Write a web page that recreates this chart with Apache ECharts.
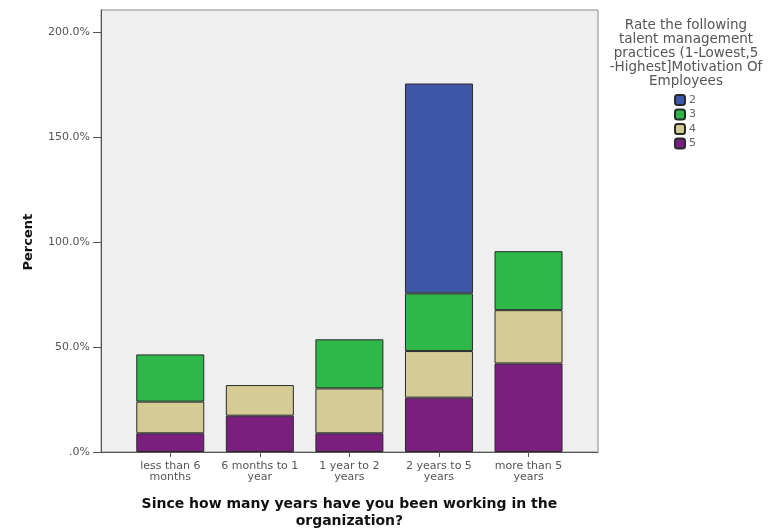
<!DOCTYPE html>
<html>
<head>
<meta charset="utf-8">
<script src="https://cdn.jsdelivr.net/npm/echarts@6/dist/echarts.min.js"></script>
<style>
html,body{margin:0;padding:0;background:#fff;}
#chart{width:770px;height:528px;}
</style>
</head>
<body>
<div id="chart"></div>
<script>
const categories = ['less than 6\nmonths', '6 months to 1\nyear', '1 year to 2\nyears', '2 years to 5\nyears', 'more than 5\nyears'];
const rating5 = [8.9, 17.3, 8.9, 25.9, 42.2];
const rating4 = [15.1, 14.6, 21.4, 22.2, 25.4];
const rating3 = [22.5, null, 23.4, 27.5, 28.1];
const rating2 = [null, null, null, 100.0, null];
const yTickLabels = ['.0%', '50.0%', '100.0%', '150.0%', '200.0%'];
const legendTitle = 'Rate the following\ntalent management\npractices (1-Lowest,5\n-Highest]Motivation Of\nEmployees';
const xTitle = 'Since how many years have you been working in the\norganization?';
const yTitle = 'Percent';

const FONT = 'DejaVu Sans';
const chart = echarts.init(document.getElementById('chart'), null, {renderer: 'canvas'});

const seriesStyle = (name, color, data) => ({
  name: name, type: 'bar', stack: 'total', xAxisIndex: 1, yAxisIndex: 1,
  data: data, barWidth: 68,
  itemStyle: {color: color, borderColor: '#2a2a2a', borderWidth: 1},
  emphasis: {disabled: true}
});

chart.setOption({
  animation: false,
  textStyle: {fontFamily: FONT},
  title: {
    text: legendTitle,
    left: 686, top: 18, padding: 0,
    textAlign: 'center',
    textStyle: {fontFamily: FONT, fontSize: 13.5, fontWeight: 'normal', color: '#555', lineHeight: 14}
  },
  legend: {
    orient: 'vertical', left: 674, top: 94, padding: 0,
    itemWidth: 10, itemHeight: 10, itemGap: 2.5,
    data: ['2', '3', '4', '5'],
    textStyle: {fontFamily: FONT, fontSize: 11, color: '#666', padding: [0, 0, 0, -1]}
  },
  grid: [
    {left: 101, right: 172, top: 10, bottom: 76, show: true, backgroundColor: '#EFEFEF', borderColor: '#8a8a8a', borderWidth: 1, outerBoundsMode: 'none', containLabel: false},
    {left: 125.5, right: 196.7, top: 32.3, bottom: 76, outerBoundsMode: 'none', containLabel: false}
  ],
  xAxis: [
    {gridIndex: 0, type: 'value', axisLine: {show: true, lineStyle: {color: '#555'}}, axisTick: {show: false}, axisLabel: {show: false}, splitLine: {show: false}},
    {gridIndex: 1, type: 'category', data: categories,
      axisLine: {show: false},
      axisTick: {show: true, alignWithLabel: true, length: 5, lineStyle: {color: '#555'}},
      axisLabel: {fontFamily: FONT, fontSize: 11, color: '#555', lineHeight: 11, margin: 9, interval: 0},
      name: xTitle, nameLocation: 'middle', nameGap: 44,
      nameTextStyle: {fontFamily: FONT, fontSize: 14, fontWeight: 'bold', color: '#111', lineHeight: 17}
    }
  ],
  yAxis: [
    {gridIndex: 0, type: 'value', axisLine: {show: true, lineStyle: {color: '#555'}}, axisTick: {show: false}, axisLabel: {show: false}, splitLine: {show: false}},
    {gridIndex: 1, type: 'value', min: 0, max: 200, interval: 50, offset: 24.5,
      axisLine: {show: false},
      axisTick: {show: true, length: 8, lineStyle: {color: '#555'}},
      axisLabel: {fontFamily: FONT, fontSize: 11, color: '#555', margin: 11,
        formatter: v => yTickLabels[Math.round(v / 50)] || ''},
      splitLine: {show: false},
      name: yTitle, nameLocation: 'middle', nameGap: 66,
      nameTextStyle: {fontFamily: FONT, fontSize: 13, fontWeight: 'bold', color: '#111'}
    }
  ],
  series: [
    seriesStyle('5', '#7A1F7E', rating5),
    seriesStyle('4', '#D5CB95', rating4),
    seriesStyle('3', '#2EB84A', rating3),
    seriesStyle('2', '#3D56A8', rating2)
  ]
});
</script>
</body>
</html>
